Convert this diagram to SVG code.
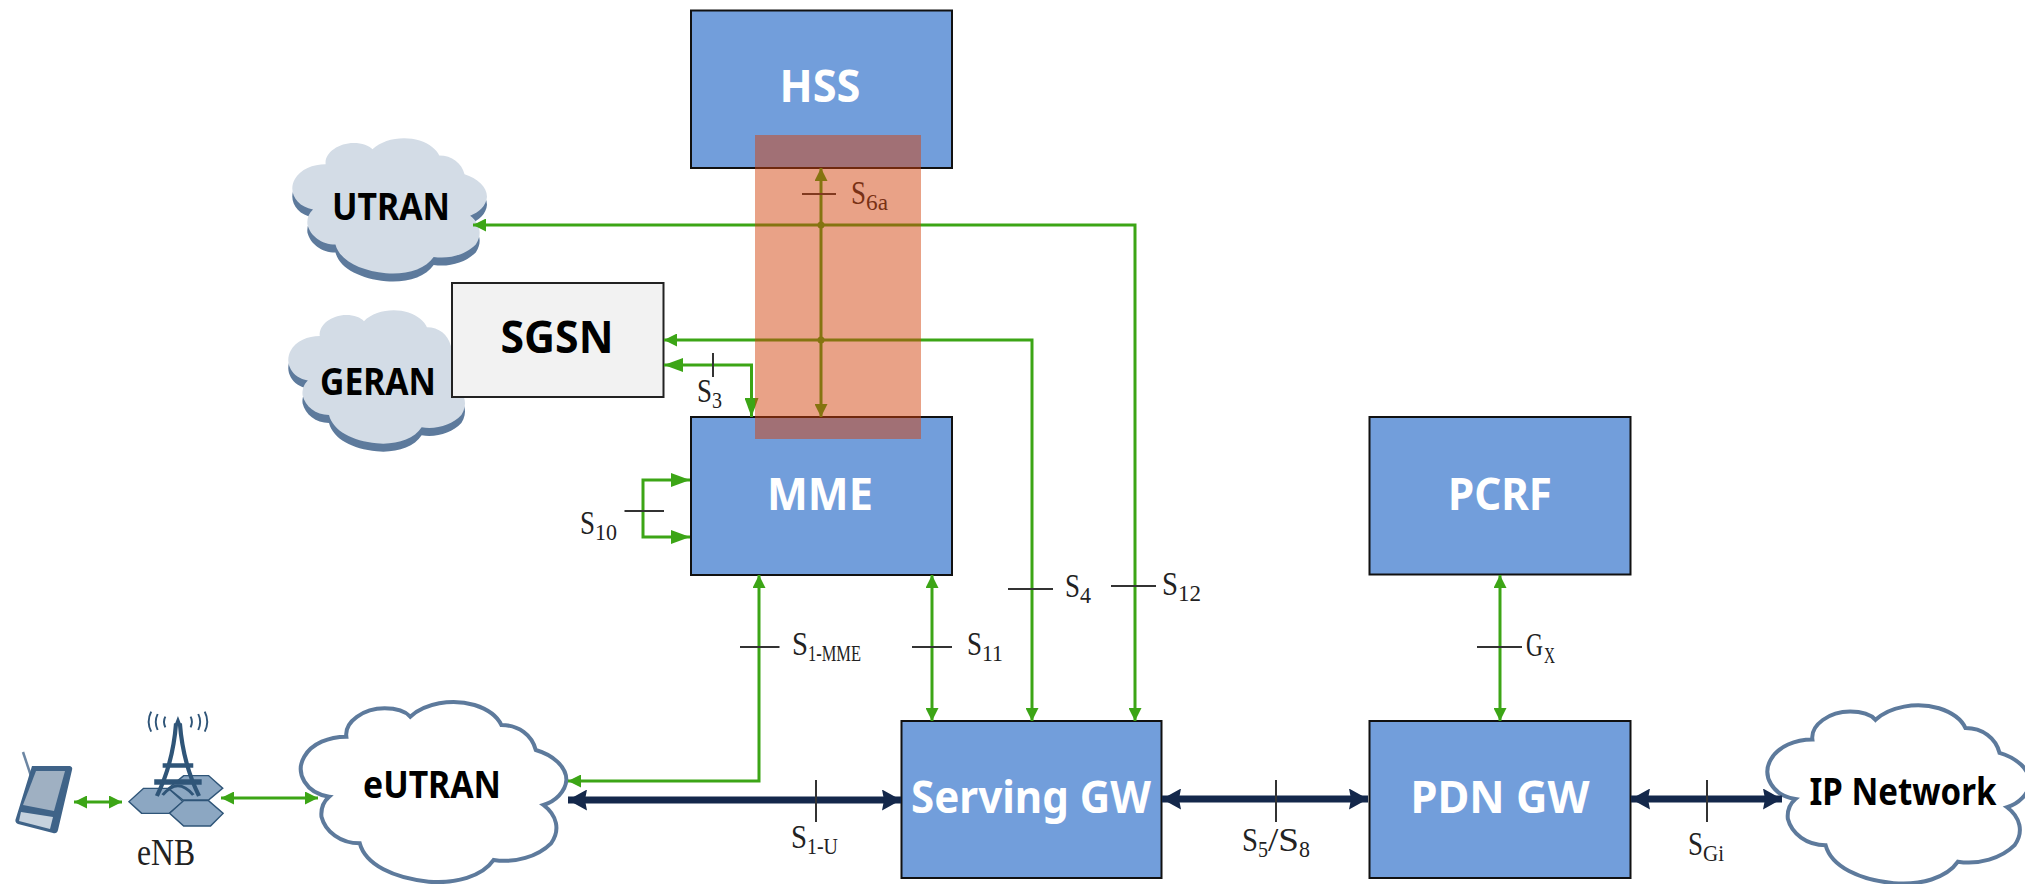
<svg xmlns="http://www.w3.org/2000/svg" xmlns:xlink="http://www.w3.org/1999/xlink" width="2025" height="884" viewBox="0 0 2025 884">
<style>
.box{fill:#729edb;stroke:#111;stroke-width:2}
.nt{font-family:"Noto Sans","Open Sans",sans-serif;font-weight:700;font-size:45px;text-anchor:middle;fill:#fff}
.ct{font-family:"Noto Sans","Open Sans",sans-serif;font-weight:700;font-size:37px;text-anchor:middle;fill:#000}
.lb{font-family:"Liberation Serif",serif;font-size:34px;fill:#222}
.sub{font-size:23px}
.g{fill:none;stroke:#3ca516;stroke-width:3}
.n{fill:none;stroke:#14284b;stroke-width:7}
.t{fill:none;stroke:#333;stroke-width:2}
.c1{fill:#d3dce6;stroke:none}
.c2{fill:#5d7a9c;stroke:none}
.c3{fill:#fff;stroke:#5d7a9c;stroke-width:4}
.cp{vector-effect:non-scaling-stroke}
.tw{fill:#2f5578;stroke:none}
.hx{fill:#8ca7c2;stroke:#2f5578;stroke-width:4}
.sg{fill:none;stroke:#2f5578;stroke-width:5}
</style>
<defs>
<marker id="as" markerUnits="userSpaceOnUse" markerWidth="13" markerHeight="13" refX="13" refY="6.5" orient="auto-start-reverse"><path d="M0 0L13 6.5L0 13Z" fill="#3ca516"/></marker>
<marker id="al" markerUnits="userSpaceOnUse" markerWidth="19" markerHeight="14" refX="19" refY="7" orient="auto-start-reverse"><path d="M0 0L19 7L0 14Z" fill="#3ca516"/></marker>
<marker id="ab" markerUnits="userSpaceOnUse" markerWidth="19" markerHeight="21" refX="19" refY="10.500" orient="auto-start-reverse"><path d="M0 0L19 10.500L0 21L2 10.500Z" fill="#14284b"/></marker>
<path id="cloud" class="cp" d="M860 350C800 340 770 280 795 230C815 190 860 170 905 170C900 125 950 85 1005 85C1035 85 1060 95 1072 110C1110 70 1180 55 1240 75C1275 88 1300 110 1310 135C1355 135 1390 165 1400 210C1445 225 1480 260 1480 300C1478 335 1450 365 1420 375C1455 405 1465 450 1440 490C1405 530 1345 550 1290 540C1260 590 1190 612 1120 605C1030 595 955 555 940 490C890 490 850 455 840 410C838 385 845 365 860 350Z"/>
</defs>

<g id="utran"><use xlink:href="#cloud" class="c2" transform="translate(71.700 129.700) scale(.2806 .2505)"/><use xlink:href="#cloud" class="c1" transform="translate(71.700 121.700) scale(.2806 .2505)"/><text class="ct" x="391" y="220" textLength="118" lengthAdjust="spacingAndGlyphs">UTRAN</text></g>
<g id="geran"><use xlink:href="#cloud" class="c2" transform="translate(80.200 302) scale(.2647 .2468)"/><use xlink:href="#cloud" class="c1" transform="translate(80.200 294) scale(.2647 .2468)"/><text class="ct" x="378" y="395" textLength="116" lengthAdjust="spacingAndGlyphs">GERAN</text></g>
<g id="sgsn"><rect x="452" y="283" width="211.500" height="114" fill="#f2f2f2" stroke="#222" stroke-width="2"/><text class="nt" style="fill:#000" x="557" y="353" textLength="113" lengthAdjust="spacingAndGlyphs">SGSN</text></g>
<g id="eutran"><use xlink:href="#cloud" class="c3" transform="translate(0 680) scale(.3827 .3333)"/><text class="ct" x="432" y="798" textLength="138" lengthAdjust="spacingAndGlyphs">eUTRAN</text></g>
<g id="ipnetwork"><use xlink:href="#cloud" class="c3" transform="translate(1470.300 683.500) scale(.378 .33)"/><text class="ct" x="1903" y="805" textLength="187" lengthAdjust="spacingAndGlyphs">IP Network</text></g>

<g id="hss"><rect class="box" x="691" y="10.500" width="261" height="157.500"/><text class="nt" x="820" y="102" textLength="81" lengthAdjust="spacingAndGlyphs">HSS</text></g>
<g id="mme"><rect class="box" x="691" y="417" width="261" height="158"/><text class="nt" x="820" y="510" textLength="106" lengthAdjust="spacingAndGlyphs">MME</text></g>
<g id="pcrf"><rect class="box" x="1369.500" y="417" width="261" height="157.500"/><text class="nt" x="1500" y="510" textLength="104" lengthAdjust="spacingAndGlyphs">PCRF</text></g>
<g id="servinggw"><rect class="box" x="901.500" y="721" width="260" height="157"/><text class="nt" x="1031" y="813" textLength="240" lengthAdjust="spacingAndGlyphs">Serving GW</text></g>
<g id="pdngw"><rect class="box" x="1369.500" y="721" width="261" height="157"/><text class="nt" x="1500" y="813" textLength="179" lengthAdjust="spacingAndGlyphs">PDN GW</text></g>

<g id="ue">
<path d="M23 752L31 776" stroke="#6c86a3" stroke-width="2.500" fill="none"/>
<path d="M32 766L70 766Q73 767 72 770L58 830Q57 834 53 833L18 824Q14 822 16 818Z" fill="#3f6388"/>
<path d="M36 771L65 771L54 811L23 805Z" fill="#9fb0c2"/>
<path d="M21 812L53 817L50 829L19 821Z" fill="#c6d2de"/>
</g>
<g id="enb" transform="translate(0 680) scale(.3827 .3333)">
<path class="hx" d="M337 365L375 325L440 325L478 365L443 400L370 400Z"/>
<path class="hx" d="M440 325L480 287L545 287L582 325L545 360L478 360Z"/>
<path class="hx" d="M443 400L480 362L545 362L583 400L550 438L480 438Z"/>
<path class="sg" style="stroke-width:11" d="M460 130Q452 250 410 348M470 130Q478 250 520 348"/>
<path class="tw" d="M465 108L474 135H456ZM425 250H505V263H425ZM403 298H527V314H403Z"/>
<path d="M425 345Q465 290 505 345" fill="none" stroke="#2f5578" stroke-width="8"/>
<path class="sg" d="M395 95Q382 125 395 155M412 102Q402 125 412 150M432 110Q425 125 432 142M498 110Q505 125 498 142M518 102Q528 125 518 150M535 95Q548 125 535 155"/>
</g>

<g id="connectors">
<path class="g" d="M122 802H74" marker-start="url(#as)" marker-end="url(#as)"/>
<path class="g" d="M318 798H221" marker-start="url(#as)" marker-end="url(#as)"/>
<path class="g" d="M759 575V781H568" marker-start="url(#as)" marker-end="url(#as)"/>
<path class="g" d="M932 575V721" marker-start="url(#as)" marker-end="url(#as)"/>
<path class="g" d="M473 225H1135V721" marker-start="url(#as)" marker-end="url(#as)"/>
<path class="g" d="M664 340H1032V721" marker-start="url(#as)" marker-end="url(#as)"/>
<path class="g" d="M664 365H751.500V417" marker-start="url(#al)" marker-end="url(#al)"/>
<path class="g" d="M690 480H643V537H690" marker-start="url(#al)" marker-end="url(#al)"/>
<path class="g" d="M821 168V417" marker-start="url(#as)" marker-end="url(#as)"/>
<circle cx="821" cy="225" r="3.500" fill="#3ca516"/><circle cx="821" cy="340" r="3.500" fill="#3ca516"/>
<path class="g" d="M1500 575V721" marker-start="url(#as)" marker-end="url(#as)"/>
<path class="n" d="M901 800H568" marker-start="url(#ab)" marker-end="url(#ab)"/>
<path class="n" d="M1162 799H1368" marker-start="url(#ab)" marker-end="url(#ab)"/>
<path class="n" d="M1631 799H1782" marker-start="url(#ab)" marker-end="url(#ab)"/>
<path class="t" d="M802 194H836M713 353V377M624.500 511H664M740 647H779.500M912 647H952M1008 589H1053M1111 586H1156M816 780V822M1276 780V822M1477 647H1522M1707 780V822"/>
</g>

<g id="labels">
<text class="lb" x="851" y="204"><tspan textLength="15" lengthAdjust="spacingAndGlyphs">S</tspan><tspan class="sub" dy="6" textLength="22" lengthAdjust="spacingAndGlyphs">6a</tspan></text>
<text class="lb" x="697" y="402"><tspan textLength="15" lengthAdjust="spacingAndGlyphs">S</tspan><tspan class="sub" dy="6" textLength="10" lengthAdjust="spacingAndGlyphs">3</tspan></text>
<text class="lb" x="580" y="534"><tspan textLength="15" lengthAdjust="spacingAndGlyphs">S</tspan><tspan class="sub" dy="6" textLength="22" lengthAdjust="spacingAndGlyphs">10</tspan></text>
<text class="lb" x="792" y="655"><tspan textLength="16" lengthAdjust="spacingAndGlyphs">S</tspan><tspan class="sub" dy="6" textLength="53" lengthAdjust="spacingAndGlyphs">1-MME</tspan></text>
<text class="lb" x="967" y="655"><tspan textLength="15" lengthAdjust="spacingAndGlyphs">S</tspan><tspan class="sub" dy="6" textLength="21" lengthAdjust="spacingAndGlyphs">11</tspan></text>
<text class="lb" x="1065" y="597"><tspan textLength="15" lengthAdjust="spacingAndGlyphs">S</tspan><tspan class="sub" dy="6" textLength="11" lengthAdjust="spacingAndGlyphs">4</tspan></text>
<text class="lb" x="1162" y="595"><tspan textLength="16" lengthAdjust="spacingAndGlyphs">S</tspan><tspan class="sub" dy="6" textLength="23" lengthAdjust="spacingAndGlyphs">12</tspan></text>
<text class="lb" x="791" y="848"><tspan textLength="16" lengthAdjust="spacingAndGlyphs">S</tspan><tspan class="sub" dy="6" textLength="31" lengthAdjust="spacingAndGlyphs">1-U</tspan></text>
<text class="lb" x="1242" y="851"><tspan textLength="16" lengthAdjust="spacingAndGlyphs">S</tspan><tspan class="sub" dy="6" textLength="10" lengthAdjust="spacingAndGlyphs">5</tspan><tspan dy="-6" textLength="31" lengthAdjust="spacingAndGlyphs">/S</tspan><tspan class="sub" dy="6" textLength="11" lengthAdjust="spacingAndGlyphs">8</tspan></text>
<text class="lb" x="1526" y="656"><tspan textLength="17" lengthAdjust="spacingAndGlyphs">G</tspan><tspan class="sub" dx="1" dy="7" textLength="11" lengthAdjust="spacingAndGlyphs">X</tspan></text>
<text class="lb" x="1688" y="855"><tspan textLength="15" lengthAdjust="spacingAndGlyphs">S</tspan><tspan class="sub" dy="6" textLength="21" lengthAdjust="spacingAndGlyphs">Gi</tspan></text>
<text class="lb" x="137" y="865" style="font-size:38px" textLength="58" lengthAdjust="spacingAndGlyphs">eNB</text>
</g>

<rect id="overlay" x="755" y="135" width="166" height="304" fill="#d2410a" fill-opacity=".49"/>
</svg>
